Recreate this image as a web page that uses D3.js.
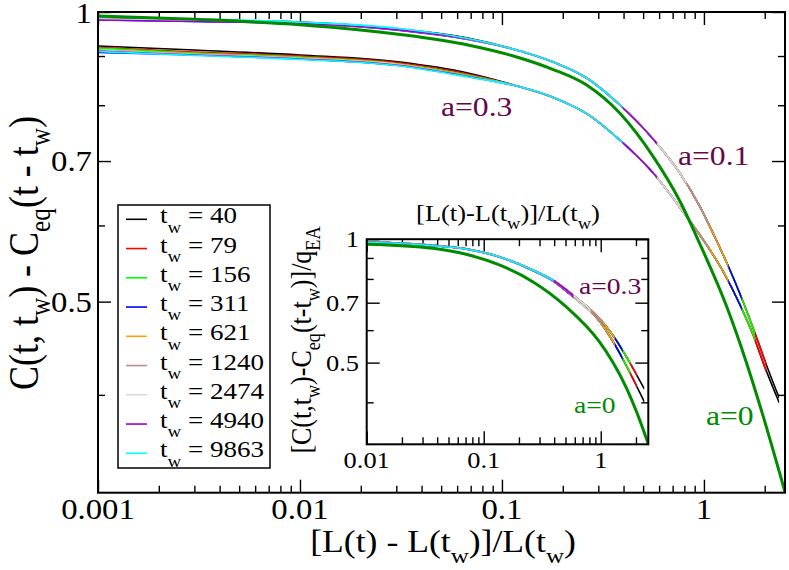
<!DOCTYPE html>
<html><head><meta charset="utf-8">
<script src="https://cdn.jsdelivr.net/npm/d3@7"></script>
<style>
body{margin:0;background:#fff}
text{font-family:"Liberation Serif","Times New Roman",serif;white-space:pre}
</style>
</head><body>
<svg id="c" width="789" height="570"></svg>
<script>
// ---------------- data ----------------
const twLabels = ["40","79","156","311","621","1240","2474","4940","9863"];
const twColors = ["#000000","#ff0000","#00ff00","#0000ff","#ffa500","#bc8f8f","#dcdcdc","#9400d3","#00ffff"];
const twXmax   = [2.36, 2.04, 1.79, 1.54, 1.32, 1.05, 0.82, 0.585, 0.395];

// main panel: early part of each t_w curve (x = earlyX), per family
const earlyX = [0.001, 0.003, 0.01, 0.0313, 0.0678];
const mainA01Early = [
  [0.9857, 0.9810, 0.9764, 0.9601, 0.9397],
  [0.9846, 0.9799, 0.9740, 0.9590, 0.9386],
  [0.9834, 0.9787, 0.9740, 0.9578, 0.9374],
  [0.9810, 0.9775, 0.9729, 0.9567, 0.9363],
  [0.9822, 0.9787, 0.9729, 0.9578, 0.9374],
  [0.9822, 0.9787, 0.9740, 0.9578, 0.9374],
  [0.9834, 0.9799, 0.9740, 0.9590, 0.9374],
  [0.9810, 0.9775, 0.9729, 0.9578, 0.9374],
  [0.9881, 0.9834, 0.9764, 0.9613, 0.9386]
];
const mainA03Early = [
  [0.9219, 0.9131, 0.9022, 0.8872, 0.8643],
  [0.9186, 0.9088, 0.9000, 0.8851, 0.8622],
  [0.9175, 0.9066, 0.8979, 0.8830, 0.8602],
  [0.9077, 0.9022, 0.8936, 0.8798, 0.8570],
  [0.9131, 0.9044, 0.8957, 0.8819, 0.8581],
  [0.9131, 0.9044, 0.8957, 0.8809, 0.8581],
  [0.9120, 0.9033, 0.8947, 0.8809, 0.8570],
  [0.9109, 0.9022, 0.8936, 0.8798, 0.8570],
  [0.9099, 0.9011, 0.8926, 0.8788, 0.8560]
];
// main panel: common (collapsed) part of each family
const mainA01X = [0.1228, 0.1795, 0.2626, 0.3838, 0.561, 0.7606, 0.9554, 1.134, 1.319, 1.537, 1.789, 2.044, 2.36];
const mainA01Y = [0.9108, 0.8870, 0.8539, 0.8004, 0.7376, 0.6801, 0.6278, 0.5833, 0.5445, 0.5043, 0.4637, 0.4292, 0.3970];
const mainA03X = [0.1228, 0.1795, 0.2626, 0.3838, 0.561, 0.7606, 0.9554, 1.246, 1.507, 1.754, 1.966, 2.36];
const mainA03Y = [0.8360, 0.8150, 0.7840, 0.7358, 0.6801, 0.6264, 0.5864, 0.5372, 0.4965, 0.4614, 0.4318, 0.3925];
// main panel, a=0
const mainA0X = [0.001, 0.003, 0.01, 0.0313, 0.0678, 0.1228, 0.1795, 0.2626, 0.3838, 0.561, 0.7606, 0.9554, 1.296, 1.627, 1.966, 2.52];
const mainA0Y = [0.9905, 0.9827, 0.970, 0.9476, 0.924, 0.8958, 0.8714, 0.8396, 0.7848, 0.7074, 0.6358, 0.5739, 0.4941, 0.4315, 0.3799, 0.317];

// inset
const inA03X = [0.01, 0.0366, 0.0706, 0.1359, 0.2623, 0.3889, 0.5763, 0.9727, 1.266, 1.756, 2.36];
const inA03Y = [0.9827, 0.9642, 0.9465, 0.9065, 0.8413, 0.7950, 0.7310, 0.6414, 0.5839, 0.5023, 0.431];
const inA01X = [0.01, 0.0366, 0.0706, 0.1359, 0.2623, 0.3889, 0.5763, 0.9727, 1.266, 1.645, 2.36];
const inA01Y = [0.985, 0.966, 0.947, 0.905, 0.839, 0.792, 0.725, 0.6316, 0.5644, 0.4932, 0.401];
const inA0X = [0.01, 0.0366, 0.0706, 0.1359, 0.2623, 0.5051, 0.9727, 1.266, 1.645, 2.043, 2.55];
const inA0Y = [0.9718, 0.950, 0.9188, 0.8652, 0.7877, 0.6847, 0.5623, 0.5017, 0.4359, 0.3767, 0.3166];

// ticks
const mainXMajor = [0.001, 0.01, 0.1, 1];
const mainXLabels = ["0.001", "0.01", "0.1", "1"];
const mainYMajor = [1, 0.7, 0.5];
const mainYLabels = ["1", "0.7", "0.5"];
const yMinor = [0.9, 0.8, 0.6, 0.4];
const inXMajor = [0.01, 0.1, 1];
const inXLabels = ["0.01", "0.1", "1"];

// ---------------- drawing ----------------
const SX = 1.15, SUB = 0.7, SHIFT = 0.35;
const svg = d3.select("#c");
const MAROON = "#670748", GREEN4 = "#008b00";

function addText(parent, x, y, parts, o) {
  const tr = o.rotate ? `translate(${x},${y}) rotate(-90) scale(1,${SX})` : `translate(${x},${y}) scale(${SX},1)`;
  const g = parent.append("g").attr("transform", tr);
  const t = g.append("text").attr("font-size", o.size).attr("text-anchor", o.anchor || "start")
    .attr("font-family", "Liberation Serif, Times New Roman, serif")
    .attr("fill", o.fill || "#000");
  const sh = o.shift !== undefined ? o.shift : SHIFT;
  let prevSub = false;
  parts.forEach(p => {
    const isSub = Array.isArray(p);
    const ts = t.append("tspan").text(isSub ? p[0] : p);
    if (isSub) ts.attr("font-size", o.size * SUB);
    if (isSub && !prevSub) ts.attr("dy", o.size * sh);
    if (!isSub && prevSub) ts.attr("dy", -o.size * sh);
    prevSub = isSub;
  });
  return t;
}

function minorsFor(domain) {
  const out = [];
  for (let e = -4; e <= 1; e++) for (let k = 2; k <= 9; k++) {
    const v = k * Math.pow(10, e);
    if (v > domain[0] * 1.0001 && v < domain[1] * 0.9999) out.push(+v.toPrecision(3));
  }
  return out;
}

function panel(box, xDom, yDom, xMaj, yMaj) {
  const x = d3.scaleLog().domain(xDom).range([box.l, box.r]);
  const y = d3.scaleLog().domain(yDom).range([box.b, box.t]);
  const g = svg.append("g");
  const xMin = minorsFor(xDom);
  const axes = [
    [d3.axisTop(x), `translate(0,${box.b})`, xMaj, xMin],
    [d3.axisBottom(x), `translate(0,${box.t})`, xMaj, xMin],
    [d3.axisRight(y), `translate(${box.l},0)`, yMaj, yMinor],
    [d3.axisLeft(y), `translate(${box.r},0)`, yMaj, yMinor]
  ];
  axes.forEach(([ax, tr, maj, mn]) => {
    [[maj, 13], [mn, 7]].forEach(([vals, len]) => {
      const a = g.append("g").attr("transform", tr)
        .call(ax.tickValues(vals).tickSize(len).tickSizeOuter(0).tickFormat(""));
      a.select(".domain").remove();
      a.selectAll("line").attr("stroke", "#000").attr("stroke-width", 1.4);
    });
  });
  return {x, y, g, box};
}

function drawCurve(P, id, pts, color, width, xmax) {
  const line = d3.line().x(d => P.x(d[0])).y(d => P.y(d[1])).curve(d3.curveMonotoneX);
  const box = P.box;
  const cid = "clip-" + id;
  svg.append("clipPath").attr("id", cid).append("rect")
    .attr("x", box.l).attr("y", box.t)
    .attr("width", (xmax ? P.x(xmax) : box.r) - box.l).attr("height", box.b - box.t);
  svg.append("path").attr("d", line(pts)).attr("fill", "none").attr("stroke", color)
    .attr("stroke-width", width).attr("stroke-linejoin", "round")
    .attr("clip-path", `url(#${cid})`);
}
const zip = (xs, ys) => xs.map((v, i) => [v, ys[i]]);

// ---- main panel ----
const mBox = {l: 98, r: 785, t: 12, b: 492.7};
const M = panel(mBox, [0.001, 2.52], [0.3165, 1], mainXMajor, mainYMajor);

twLabels.forEach((tw, i) => {
  drawCurve(M, "m01-" + i, zip(earlyX, mainA01Early[i]).concat(zip(mainA01X, mainA01Y)), twColors[i], 1.6, twXmax[i]);
});
twLabels.forEach((tw, i) => {
  drawCurve(M, "m03-" + i, zip(earlyX, mainA03Early[i]).concat(zip(mainA03X, mainA03Y)), twColors[i], 1.6, twXmax[i]);
});
drawCurve(M, "m0", zip(mainA0X, mainA0Y), GREEN4, 3, null);

svg.append("rect").attr("x", mBox.l).attr("y", mBox.t).attr("width", mBox.r - mBox.l)
  .attr("height", mBox.b - mBox.t).attr("fill", "none").attr("stroke", "#000").attr("stroke-width", 2);

const TS = 28.5;
mainXMajor.forEach((v, i) => addText(svg, M.x(v), 519, [mainXLabels[i]], {size: TS, anchor: "middle"}));
mainYMajor.forEach((v, i) => addText(svg, 92, M.y(v) + TS * 0.35 + (i === 0 ? 1.5 : 0), [mainYLabels[i]], {size: TS, anchor: "end"}));

addText(svg, 443, 552, ["[L(t) - L(t", ["w"], ")]/L(t", ["w"], ")"], {size: 31, anchor: "middle"});
addText(svg, 38, 253, ["C(t, t", ["w"], ") - C", ["eq"], "(t - t", ["w"], ")"], {size: 36, anchor: "middle", rotate: true, shift: 0.3});

addText(svg, 441, 115.5, ["a=0.3"], {size: 27.5, fill: MAROON});
addText(svg, 678, 165, ["a=0.1"], {size: 27.5, fill: MAROON});
addText(svg, 706, 425, ["a=0"], {size: 27.5, fill: GREEN4});

// legend
const lg = svg.append("g");
lg.append("rect").attr("x", 118).attr("y", 205).attr("width", 152).attr("height", 263)
  .attr("fill", "#fff").attr("stroke", "#000").attr("stroke-width", 1.5);
twLabels.forEach((tw, i) => {
  const yy = 219.3 + i * 29.25;
  lg.append("line").attr("x1", 126).attr("x2", 147).attr("y1", yy).attr("y2", yy)
    .attr("stroke", twColors[i]).attr("stroke-width", 1.6);
  addText(lg, 160, yy + 4, ["t", ["w"], " = " + tw], {size: 23.5, shift: 0.4});
});

// ---- inset ----
const iBox = {l: 366.7, r: 648.3, t: 239.2, b: 444.3};
svg.append("rect").attr("x", iBox.l).attr("y", iBox.t).attr("width", iBox.r - iBox.l)
  .attr("height", iBox.b - iBox.t).attr("fill", "#fff");
const I = panel(iBox, [0.01, 2.55], [0.316, 1], inXMajor, mainYMajor);
twLabels.forEach((tw, i) => {
  drawCurve(I, "i01-" + i, zip(inA01X, inA01Y), twColors[i], 1.6, twXmax[i]);
});
twLabels.forEach((tw, i) => {
  drawCurve(I, "i03-" + i, zip(inA03X, inA03Y), twColors[i], 1.6, twXmax[i]);
});
drawCurve(I, "i0", zip(inA0X, inA0Y), GREEN4, 3, null);
svg.append("rect").attr("x", iBox.l).attr("y", iBox.t).attr("width", iBox.r - iBox.l)
  .attr("height", iBox.b - iBox.t).attr("fill", "none").attr("stroke", "#000").attr("stroke-width", 2);

const IS = 23;
inXMajor.forEach((v, i) => addText(svg, I.x(v), 468, [inXLabels[i]], {size: IS, anchor: "middle"}));
mainYMajor.forEach((v, i) => addText(svg, 359, I.y(v) + IS * 0.35, [mainYLabels[i]], {size: IS, anchor: "end"}));
addText(svg, 508, 221, ["[L(t)-L(t", ["w"], ")]/L(t", ["w"], ")"], {size: 23, anchor: "middle"});
addText(svg, 311, 340, ["[C(t,t", ["w"], ")-C", ["eq"], "(t-t", ["w"], ")]/q", ["EA"]], {size: 26, anchor: "middle", rotate: true, shift: 0.3});
addText(svg, 579, 294, ["a=0.3"], {size: 24, fill: MAROON});
addText(svg, 574, 412.5, ["a=0"], {size: 24, fill: GREEN4});
</script>
</body></html>
